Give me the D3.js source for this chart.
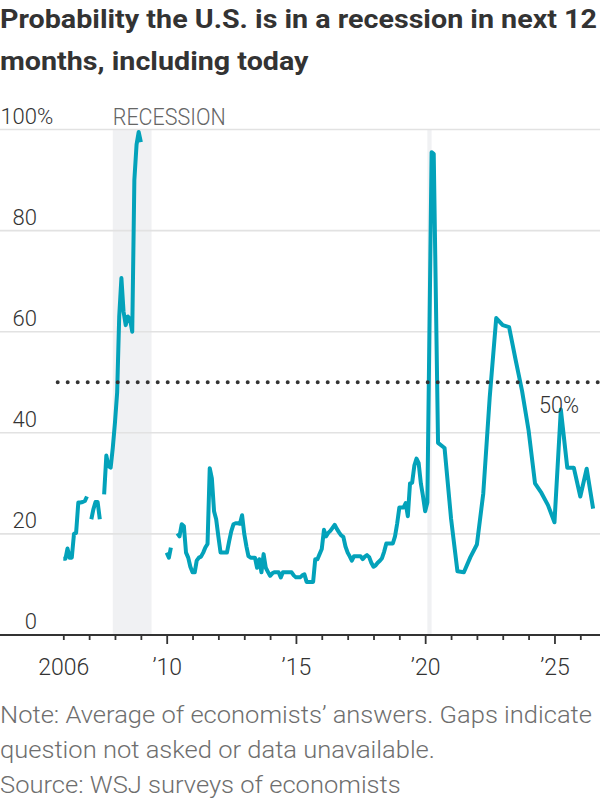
<!DOCTYPE html>
<html>
<head>
<meta charset="utf-8">
<script src="https://cdn.jsdelivr.net/npm/d3@7"></script>
<style>
  body { margin: 0; background: #fff; }
  svg { display: block; }
  text { font-family: Roboto, "Noto Sans", sans-serif; }
</style>
</head>
<body>
<svg id="chart" width="600" height="800"></svg>
<script>
// ---------------- DATA ----------------
const titleLines = ["Probability the U.S. is in a recession in next 12", "months, including today"];
const noteLines = [
  "Note: Average of economists\u2019 answers. Gaps indicate",
  "question not asked or data unavailable.",
  "Source: WSJ surveys of economists"
];
const yTicks = [0, 20, 40, 60, 80, 100];
const xLabelYears = [2006, 2010, 2015, 2020, 2025];
const recessionLabel = "RECESSION";
const recessions = [["2007-12", "2009-06"], ["2020-02", "2020-04"]];
const thresholdValue = 50;
const thresholdLabel = "50%";

// Monthly survey readings, Jan 2006 .. Feb 2020 (null = not asked / unavailable)
const monthlyStart = "2006-01";
const monthlyValues = [
  // 2006
  15.1, 15.1, 17.1, 15.3, 15.3, 20, 20.2, 26.2, 26.2, 26.3, 26.5, 27.4,
  // 2007
  null, 22.9, 24.8, 26.3, 26.3, 22.9, null, 27.8, 35.5, 33.4, 33.1, 37,
  // 2008
  42, 48, 63, 70.6, 64, 61.3, 63, 62.5, 60, 90, 97, 99.5,
  // 2009
  97.5, null, null, null, null, null, null, null, null, null, null, null,
  // 2010
  16.3, 15.3, 17.3, null, null, 20.1, 19.5, 21.9, 21.5, 16.3, 15.3, 13.5,
  // 2011
  12.4, 12.4, 14.7, 15.3, 15.5, 16.3, 17.3, 18, 33, 31, 24.5, 22.9,
  // 2012
  19.5, 16.3, 16.3, 16.3, 16.3, 18.5, 20.5, 21.9, 22.1, 22.1, 22, 23.7,
  // 2013
  20, 17.5, 15.6, 15.3, 15.3, 15.3, 13.3, 15, 12.4, 16, 13.3, 12.5,
  // 2014
  11.7, 12.2, 12.4, 12.4, 12.4, 11.4, 12.4, 12.4, 12.4, 12.4, 12.4, 11.8,
  // 2015
  11.4, 11.4, 11.4, 11.8, 12, 10.5, 10.5, 10.5, 10.5, 15, 15, 16,
  // 2016
  17, 20.8, 19.5, 20.2, 20.6, 21.2, 21.8, 21, 20.3, 19.7, 19.4, 17.5,
  // 2017
  16.3, 15.5, 14.7, 15.6, 15.6, 15.6, 15.6, 15, 15.5, 15.8, 15.4, 14.3,
  // 2018
  13.5, 13.8, 14.3, 14.7, 15.2, 16.5, 18.1, 18.1, 18.1, 18.1, 19.5, 22,
  // 2019
  25.2, 25.2, 25.2, 26.1, 23.5, 30, 30.1, 33.5, 34.9, 34, 30, 27.5,
  // 2020
  24.5, 26.2
];

// Later (mostly quarterly) surveys
const laterDates = [
  "2020-04", "2020-05", "2020-07", "2020-10",
  "2021-01", "2021-04", "2021-07", "2021-10",
  "2022-01", "2022-04", "2022-07", "2022-10",
  "2023-01", "2023-04", "2023-07", "2023-10",
  "2024-01", "2024-04", "2024-07", "2024-10",
  "2025-01", "2025-04", "2025-07", "2025-10",
  "2026-01", "2026-04", "2026-07"
];
const laterValues = [
  95.5, 95.2, 38, 37,
  23, 12.6, 12.4, 15.4,
  17.9, 28, 47, 62.7,
  61.3, 60.9, 54.5, 48.3,
  40.5, 30, 28.1, 25.7,
  22.3, 44.6, 33.1, 33.1,
  27.4, 32.9, 25
];

// ---------------- BUILD ----------------
const parse = d3.timeParse("%Y-%m");
const start = parse(monthlyStart);
const series = monthlyValues.map((v, i) => ({ date: d3.timeMonth.offset(start, i), value: v }))
  .concat(laterDates.map((d, i) => ({ date: parse(d), value: laterValues[i] })));

const svg = d3.select("#chart");
const W = 600;
const x = d3.scaleTime()
  .domain([new Date(2006, 0, 1), new Date(2026, 0, 1)])
  .range([63.3, 580.3]);
const y = d3.scaleLinear().domain([0, 100]).range([635, 129.5]);

// Title
const titleG = svg.append("g");
const tl = titleG.selectAll("text").data(titleLines).join("text")
  .attr("x", 0)
  .attr("y", (d, i) => 28 + i * 42)
  .attr("fill", "#333")
  .attr("font-size", 25.5)
  .attr("font-weight", 700)
  .attr("font-family", "Lato, 'Open Sans', sans-serif")
  .text(d => d);
{
  const n0 = tl.nodes()[0].getComputedTextLength();
  const k = 597 / n0;
  tl.each(function () {
    const w = this.getComputedTextLength() * k;
    d3.select(this).attr("textLength", w).attr("lengthAdjust", "spacingAndGlyphs");
  });
}

// Recession bands
svg.append("g").selectAll("rect").data(recessions).join("rect")
  .attr("x", d => x(parse(d[0])))
  .attr("width", d => x(parse(d[1])) - x(parse(d[0])))
  .attr("y", y(100))
  .attr("height", y(0) - y(100))
  .attr("fill", "#f0f1f3");

svg.append("text")
  .attr("x", x(parse(recessions[0][0])))
  .attr("y", 124.5)
  .attr("font-size", 23)
  .attr("font-weight", 300)
  .attr("fill", "#666")
  .attr("textLength", 113)
  .attr("lengthAdjust", "spacingAndGlyphs")
  .text(recessionLabel);

// Gridlines and y labels
const gridG = svg.append("g");
gridG.selectAll("line").data(yTicks.filter(d => d > 0)).join("line")
  .attr("x1", 0).attr("x2", W)
  .attr("y1", d => y(d)).attr("y2", d => y(d))
  .attr("stroke", "#e2e2e2").attr("stroke-width", 1.6);

const yLab = svg.append("g");
yLab.selectAll("text").data(yTicks).join("text")
  .attr("x", 37)
  .attr("y", d => y(d) - 6)
  .attr("text-anchor", "end")
  .attr("font-size", 22)
  .attr("font-weight", 300)
  .attr("fill", "#333")
  .text(d => d);
yLab.append("text")
  .attr("x", 37)
  .attr("y", y(100) - 6)
  .attr("font-size", 22)
  .attr("font-weight", 300)
  .attr("fill", "#333")
  .text("%");

// Line
const line = d3.line()
  .defined(d => d.value !== null)
  .x(d => x(d.date))
  .y(d => y(d.value));

svg.append("path")
  .datum(series)
  .attr("d", line)
  .attr("fill", "none")
  .attr("stroke", "#03a2ba")
  .attr("stroke-width", 4)
  .attr("stroke-linejoin", "round")
  .attr("stroke-linecap", "butt");

// 50% threshold
svg.append("line")
  .attr("x1", 57.7).attr("x2", W)
  .attr("y1", y(thresholdValue)).attr("y2", y(thresholdValue))
  .attr("stroke", "#333")
  .attr("stroke-width", 4)
  .attr("stroke-linecap", "round")
  .attr("stroke-dasharray", "0,10");

svg.append("text")
  .attr("x", 539)
  .attr("y", 413)
  .attr("font-size", 23)
  .attr("font-weight", 300)
  .attr("fill", "#333")
  .attr("textLength", 40)
  .attr("lengthAdjust", "spacingAndGlyphs")
  .text(thresholdLabel);

// X axis
const xAxis = d3.axisBottom(x)
  .ticks(d3.timeYear.every(1))
  .tickSize(5)
  .tickPadding(0)
  .tickFormat(d => {
    const yr = d.getFullYear();
    if (!xLabelYears.includes(yr)) return "";
    return yr === 2006 ? String(yr) : "\u2019" + String(yr).slice(2);
  });

const ax = svg.append("g")
  .attr("transform", `translate(0,${y(0)})`)
  .call(xAxis);
ax.select(".domain").remove();
ax.selectAll(".tick line")
  .attr("stroke", "#333")
  .attr("stroke-width", 1.8)
  .attr("y2", d => (d.getFullYear() % 5 === 0 ? 9 : 5));
ax.selectAll(".tick text")
  .attr("y", 40)
  .attr("dy", 0)
  .attr("fill", "#333")
  .attr("font-size", 23)
  .attr("font-weight", 300)
  .attr("font-family", "Roboto, 'Noto Sans', sans-serif");

svg.append("line")
  .attr("x1", 0).attr("x2", W)
  .attr("y1", y(0)).attr("y2", y(0))
  .attr("stroke", "#333").attr("stroke-width", 2);

// Notes
const nl = svg.append("g").selectAll("text").data(noteLines).join("text")
  .attr("x", 0)
  .attr("y", (d, i) => 722.5 + i * 35.3)
  .attr("font-size", 23)
  .attr("font-weight", 300)
  .attr("fill", "#6e6e6e")
  .text(d => d);
{
  const n0 = nl.nodes()[0].getComputedTextLength();
  const k = 592 / n0;
  nl.each(function () {
    const w = this.getComputedTextLength() * k;
    d3.select(this).attr("textLength", w).attr("lengthAdjust", "spacingAndGlyphs");
  });
}
</script>
</body>
</html>
